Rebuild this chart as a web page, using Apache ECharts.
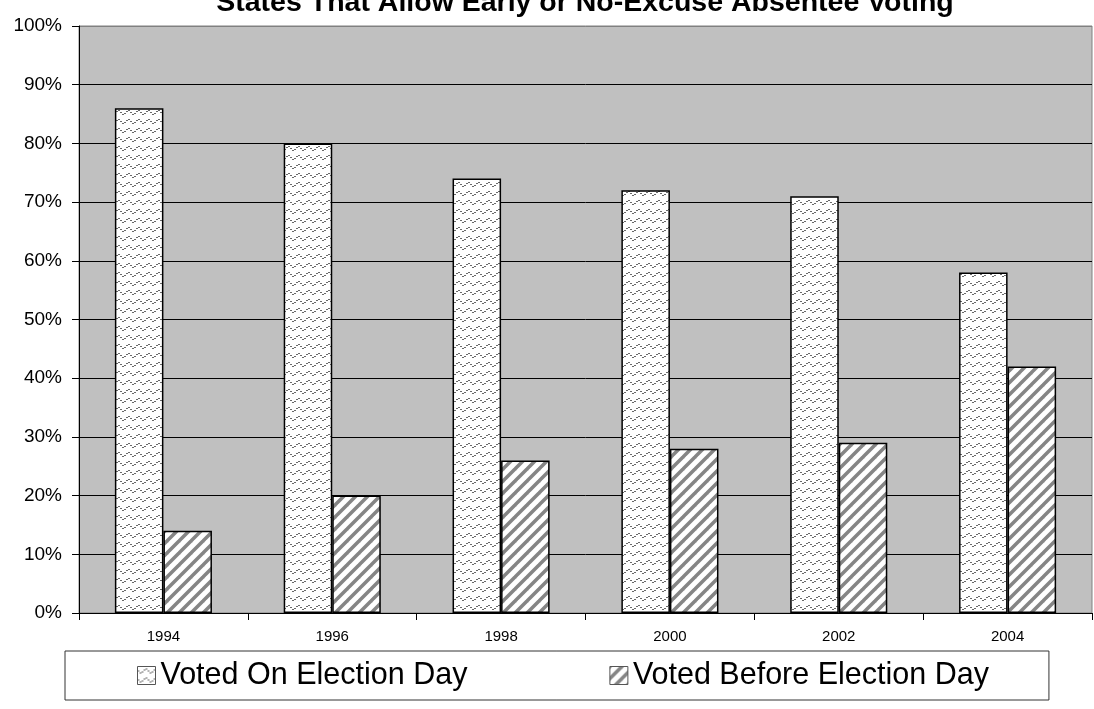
<!DOCTYPE html>
<html>
<head>
<meta charset="utf-8">
<style>
  html, body { margin: 0; padding: 0; background: #ffffff; }
  #chart { width: 1094px; height: 709px; }
</style>
<script src="https://cdn.jsdelivr.net/npm/echarts@6/dist/echarts.min.js"></script>
</head>
<body>
<div id="chart"></div>
<script>
// Election years on the category axis
const years = ['1994', '1996', '1998', '2000', '2002', '2004'];
// Share of voters (percent) in states allowing early / no-excuse absentee voting
const votedOnElectionDay = [86, 80, 74, 72, 71, 58];
const votedBeforeElectionDay = [14, 20, 26, 28, 29, 42];
const seriesNames = ['Voted On Election Day', 'Voted Before Election Day'];
const titleText = 'States That Allow Early or No-Excuse Absentee Voting';

const FONT = 'Liberation Sans, Arial, Helvetica, sans-serif';

// Dotted wave fill for the election-day bars
function wavePattern() {
  const c = document.createElement('canvas');
  c.width = 10; c.height = 9;
  const g = c.getContext('2d');
  g.fillStyle = '#ffffff';
  g.fillRect(0, 0, 10, 9);
  g.fillStyle = '#6a6a6a';
  for (let x = 0; x < 10; x++) {
    if (x % 2 === 1) continue;
    const y = 4 + Math.round(1.6 * Math.sin((x / 10) * Math.PI * 2));
    g.fillRect(x, y, 1, 1);
    g.fillRect(x + 1, y, 1, 1);
  }
  return c;
}

// Diagonal hatch fill for the before-election-day bars
function stripePattern() {
  const n = 12;
  const c = document.createElement('canvas');
  c.width = n; c.height = n;
  const g = c.getContext('2d');
  g.fillStyle = '#ffffff';
  g.fillRect(0, 0, n, n);
  g.strokeStyle = '#858585';
  g.lineWidth = 3.5;
  for (let k = -1; k <= 1; k++) {
    g.beginPath();
    g.moveTo(k * n - 1, n + 1);
    g.lineTo(k * n + n + 1, -1);
    g.stroke();
  }
  return c;
}

const chart = echarts.init(document.getElementById('chart'), null, { renderer: 'canvas' });

const option = {
  animation: false,
  backgroundColor: '#ffffff',
  title: {
    text: titleText,
    left: 585,
    textAlign: 'center',
    top: -11,
    padding: 0,
    textStyle: { fontFamily: FONT, fontSize: 28.5, fontWeight: 'bold', color: '#000000' }
  },
  grid: {
    left: 79, right: 2, top: 26, bottom: 96,
    show: true,
    backgroundColor: '#c0c0c0',
    borderColor: '#808080',
    borderWidth: 1
  },
  legend: {
    left: 65,
    top: 651,
    orient: 'horizontal',
    padding: [7, 60, 7, 72],
    itemWidth: 18,
    itemHeight: 18,
    itemGap: 142,
    borderColor: '#333333',
    borderWidth: 1,
    borderRadius: 0,
    backgroundColor: '#ffffff',
    icon: 'rect',
    itemStyle: { borderColor: '#555555', borderWidth: 1 },
    textStyle: { fontFamily: FONT, fontSize: 30.5, color: '#000000', lineHeight: 35 },
    data: seriesNames
  },
  xAxis: {
    type: 'category',
    data: years,
    boundaryGap: true,
    axisLine: { lineStyle: { color: '#000000', width: 1 } },
    axisTick: { show: true, alignWithLabel: false, length: 7, lineStyle: { color: '#000000' } },
    axisLabel: { fontFamily: FONT, fontSize: 15, color: '#000000', margin: 16 },
    splitLine: { show: false }
  },
  yAxis: {
    type: 'value',
    min: 0,
    max: 100,
    interval: 10,
    axisLine: { show: true, lineStyle: { color: '#000000', width: 1 } },
    axisTick: { show: true, length: 7, lineStyle: { color: '#000000' } },
    axisLabel: { fontFamily: FONT, fontSize: 19, color: '#000000', margin: 17, formatter: '{value}%' },
    splitLine: {
      show: true,
      lineStyle: {
        color: ['#000000', '#000000', '#000000', '#000000', '#000000', '#000000',
                '#000000', '#000000', '#000000', '#000000', '#808080'],
        width: 1
      }
    }
  },
  series: [
    {
      name: seriesNames[0],
      type: 'bar',
      data: votedOnElectionDay,
      barGap: '0%',
      barCategoryGap: '42.5%',
      itemStyle: {
        color: { image: wavePattern(), repeat: 'repeat' },
        borderColor: '#000000',
        borderWidth: 1.5
      }
    },
    {
      name: seriesNames[1],
      type: 'bar',
      data: votedBeforeElectionDay,
      barGap: '0%',
      barCategoryGap: '42.5%',
      itemStyle: {
        color: { image: stripePattern(), repeat: 'repeat' },
        borderColor: '#000000',
        borderWidth: 1.5
      }
    }
  ]
};

chart.setOption(option);
</script>
</body>
</html>
